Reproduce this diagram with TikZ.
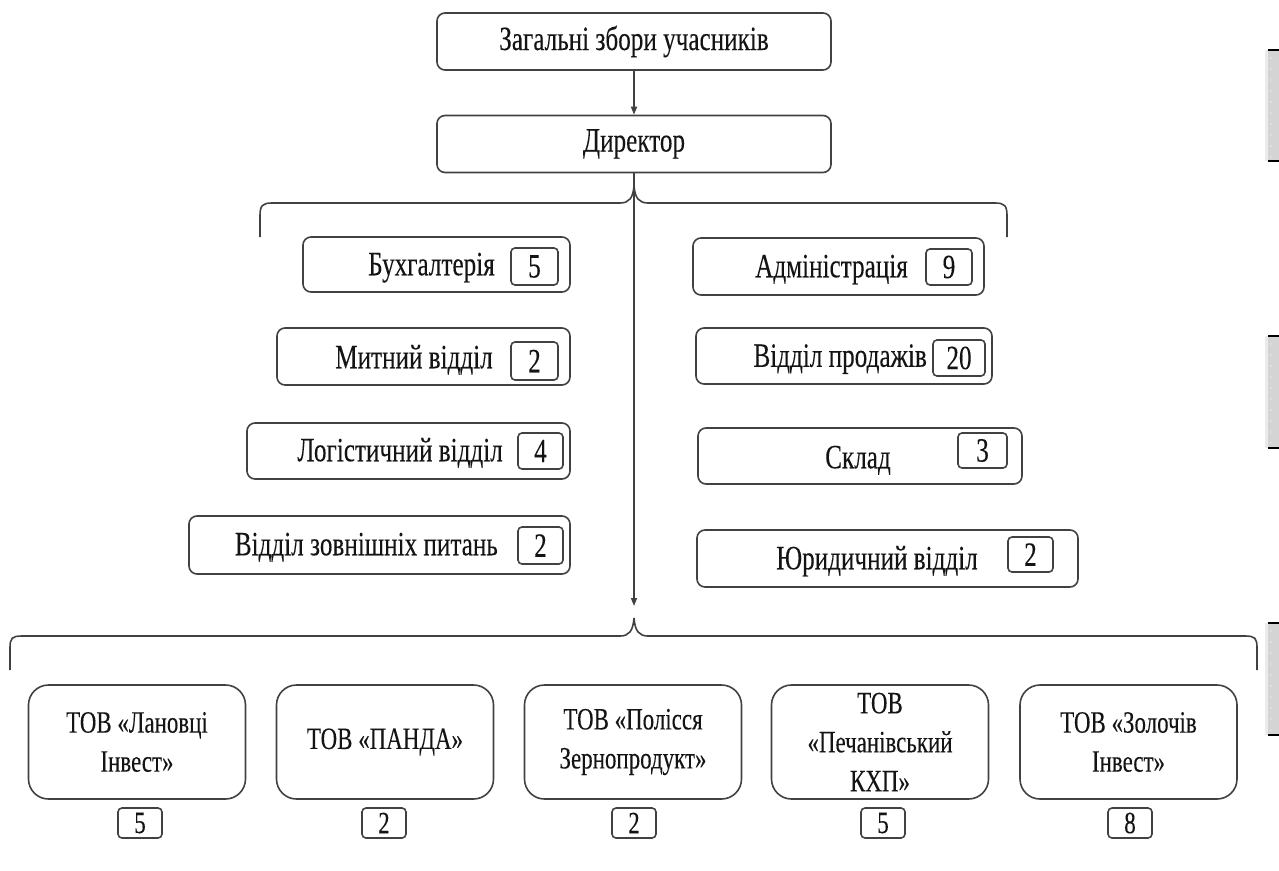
\documentclass[tikz,border=0pt]{standalone}
\usepackage{fontspec}
\setmainfont{Liberation Serif}[FakeStretch=0.74,FakeBold=0.15]
\usetikzlibrary{arrows.meta}
\definecolor{linec}{RGB}{65,65,65}
\definecolor{txtc}{RGB}{20,20,20}
\begin{document}
\begin{tikzpicture}[x=1pt,y=-1pt,
  font=\fontsize{34}{41}\selectfont,
  ln/.style={draw=linec,line width=1.6pt},
  arr/.style={ln,-{Triangle[length=8pt,width=6pt]}},
  topbox/.style={ln,rounded corners=8pt,minimum width=394pt,minimum height=57pt,inner sep=0pt,text=txtc},
  dept/.style={ln,rounded corners=8pt,inner sep=0pt},
  numbox/.style={ln,rounded corners=4pt,inner sep=0pt,text=txtc},
  lbl/.style={inner sep=0pt,text height=22.5pt,text depth=0pt,text=txtc},
  firm/.style={ln,rounded corners=20pt,minimum width=217pt,minimum height=114pt,inner sep=0pt,align=center,text=txtc,font=\fontsize{31}{39}\selectfont}]
\useasboundingbox (0,0) rectangle (1279,870);

% top
\node[topbox] (zag) at (634,41.5) {Загальні збори учасників};
\node[topbox] (dir) at (634,144) {Директор};
\draw[arr] (zag) -- (dir);
\coordinate (tip) at (634,606);
\draw[arr] (dir.south) -- (tip);

% braces
\draw[ln] (260,237) -- (260,216) .. controls (260,206) and (262,203) .. (272,203) -- (620,203) .. controls (629,203) and (633,198) .. (634,186);
\draw[ln] (1007,237) -- (1007,216) .. controls (1007,206) and (1005,203) .. (995,203) -- (648,203) .. controls (639,203) and (635,198) .. (634,186);
\draw[ln] (10,670) -- (10,648) .. controls (10,638) and (12,636) .. (22,636) -- (620,636) .. controls (629,636) and (633,631) .. (634,618);
\draw[ln] (1257,670) -- (1257,648) .. controls (1257,638) and (1255,636) .. (1245,636) -- (648,636) .. controls (639,636) and (635,631) .. (634,618);

% left departments
\node[dept,minimum width=267pt,minimum height=55pt] (buh) at (436.5,264.5) {};
\node[numbox,minimum width=47pt,minimum height=37pt] (buhn) at (534.5,266.5) {5};
\node[lbl,anchor=east] (buht) at (495,264) {Бухгалтерія};

\node[dept,minimum width=293pt,minimum height=57pt] (mit) at (423.5,356.5) {};
\node[numbox,minimum width=47pt,minimum height=38pt] (mitn) at (534.5,361) {2};
\node[lbl,anchor=east] (mitt) at (493,357) {Митний відділ};

\node[dept,minimum width=323pt,minimum height=56pt] (log) at (408.5,451) {};
\node[numbox,minimum width=45pt,minimum height=36pt] (logn) at (540.5,451) {4};
\node[lbl,anchor=east] (logt) at (503,450) {Логістичний відділ};

\node[dept,minimum width=381pt,minimum height=58pt] (zov) at (379.5,545) {};
\node[numbox,minimum width=45pt,minimum height=37pt] (zovn) at (540.5,545.5) {2};
\node[lbl,anchor=east] (zovt) at (498,544) {Відділ зовнішніх питань};

% right departments
\node[dept,minimum width=291pt,minimum height=57pt] (adm) at (838.5,266.5) {};
\node[numbox,minimum width=46pt,minimum height=36pt] (admn) at (949,267) {9};
\node[lbl,anchor=east] (admt) at (908,266) {Адміністрація};

\node[dept,minimum width=296pt,minimum height=56pt] (prod) at (844,356) {};
\node[numbox,minimum width=52pt,minimum height=36pt] (prodn) at (959,358) {20};
\node[lbl,anchor=east] (prodt) at (927,355.5) {Відділ продажів};

\node[dept,minimum width=324pt,minimum height=56pt] (skl) at (860,456) {};
\node[numbox,minimum width=49pt,minimum height=35pt] (skln) at (982.5,450.5) {3};
\node[lbl] (sklt) at (858,457) {Склад};

\node[dept,minimum width=381pt,minimum height=57pt] (yur) at (887.5,558.5) {};
\node[numbox,minimum width=45pt,minimum height=35pt] (yurn) at (1030.5,554.5) {2};
\node[lbl,anchor=east] (yurt) at (978,558) {Юридичний відділ};

% firms
\node[firm] (f1) at (137,742) {ТОВ «Лановці\\Інвест»};
\node[firm] (f2) at (385,742) {ТОВ «ПАНДА»};
\node[firm] (f3) at (633,742) {ТОВ «Полісся\\Зернопродукт»};
\node[firm] (f4) at (880,742) {ТОВ\\«Печанівський\\КХП»};
\node[firm] (f5) at (1128.5,742) {ТОВ «Золочів\\Інвест»};
\tikzset{fnum/.style={numbox,minimum width=44pt,minimum height=30pt,font=\fontsize{31}{39}\selectfont}}
\node[fnum] (f1n) at (140,823) {5};
\node[fnum] (f2n) at (384,823) {2};
\node[fnum] (f3n) at (634,823) {2};
\node[fnum] (f4n) at (883,823) {5};
\node[fnum] (f5n) at (1130,823) {8};

% right-edge grey bars
\foreach \ya/\yb in {50/161,336/448,623/735}{
  \fill[black!8] (1265,\ya) rectangle (1268,\yb);
  \fill[black!17] (1268,\ya) rectangle (1279,\yb);
  \pgfmathsetmacro{\ys}{\ya+8}
  \pgfmathsetmacro{\yt}{\ya+19}
  \foreach \yy in {\ys,\yt,...,\yb}{\fill[white] (1271,\yy) circle (0.7);}
  \draw[black,line width=2pt] (1268,\ya) -- (1279,\ya);
  \draw[black,line width=2pt] (1268,\yb) -- (1279,\yb);
}
\end{tikzpicture}
\end{document}
